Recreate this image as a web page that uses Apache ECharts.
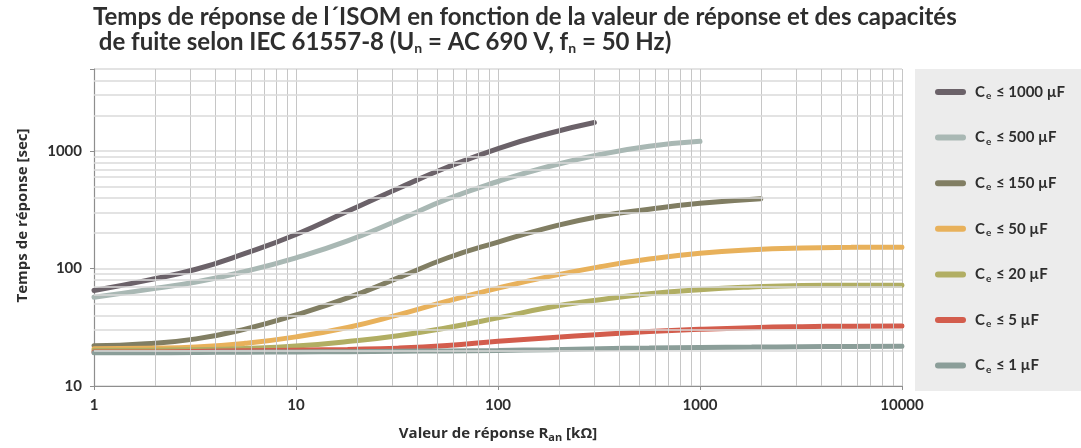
<!DOCTYPE html>
<html>
<head>
<meta charset="utf-8">
<script src="https://cdn.jsdelivr.net/npm/echarts@6/dist/echarts.min.js"></script>
<style>
  html, body { margin: 0; padding: 0; background: #ffffff; }
  #chart { width: 1081px; height: 448px; }
</style>
</head>
<body>
<div id="chart"></div>
<script>
// Response value R_an in kΩ (x), sampled about every quarter decade, and response time in seconds (y)
const resistance     = [1, 1.8, 3.2, 5.6, 10, 18, 32, 56, 100, 180, 320, 560, 1000, 1800, 3200, 5600, 10000];
const resistance1000 = [1, 1.8, 3.2, 5.6, 10, 18, 32, 56, 100, 180, 300];
const resistance500  = [1, 1.8, 3.2, 5.6, 10, 18, 32, 56, 100, 180, 320, 560, 1000];
const resistance150  = [1, 1.8, 3.2, 5.6, 10, 18, 32, 56, 100, 180, 320, 560, 1000, 2000];

const ce1000 = [65, 78.9, 98.6, 134.6, 195, 307, 481, 728, 1052, 1419, 1750];
const ce500  = [57, 65.8, 76.9, 94.6, 123.3, 172, 258, 390, 551, 743, 935, 1099, 1211];
const ce150  = [22, 22.9, 25.2, 30.5, 40.3, 56.2, 83.2, 123, 168, 224, 279, 320, 359, 393];
const ce50   = [20.8, 21.0, 21.5, 23.1, 26.2, 31.5, 40.3, 52.8, 68.1, 85.7, 103.6, 120.4, 135, 144.7, 149.8, 151.5, 152];
const ce20   = [20.2, 20.2, 20.4, 20.9, 21.9, 23.9, 26.8, 31.3, 38, 46.8, 54.3, 61, 66.1, 69.6, 71.6, 72, 72.1];
const ce5    = [19.5, 19.5, 19.7, 19.95, 20.2, 20.5, 21, 22.1, 24, 25.8, 27.5, 29.1, 30.4, 31.4, 32, 32.3, 32.4];
const ce1    = [19.2, 19.2, 19.3, 19.4, 19.5, 19.6, 19.75, 19.9, 20.1, 20.4, 20.8, 21.05, 21.3, 21.45, 21.6, 21.7, 21.8];

const seriesNames = ['Ce ≤ 1000 µF', 'Ce ≤ 500 µF', 'Ce ≤ 150 µF', 'Ce ≤ 50 µF', 'Ce ≤ 20 µF', 'Ce ≤ 5 µF', 'Ce ≤ 1 µF'];
const seriesValues = [ce1000, ce500, ce150, ce50, ce20, ce5, ce1];
const seriesX = [resistance1000, resistance500, resistance150, resistance, resistance, resistance, resistance];
const seriesColors = ['#6b6269', '#a9b8b4', '#817e63', '#e8b15b', '#b1ae63', '#d35d4d', '#8b9e99'];

// Decade tick labels and the intermediate log grid lines (2..9 of every decade)
const xTickLabels = [1, 10, 100, 1000, 10000];
const yTickLabels = [10, 100, 1000];
const xMinorGrid = [2,3,4,5,6,7,8,9, 20,30,40,50,60,70,80,90, 200,300,400,500,600,700,800,900, 2000,3000,4000,5000,6000,7000,8000,9000];
const yMinorGrid = [20,30,40,50,60,70,80,90, 200,300,400,500,600,700,800,900, 2000,3000,4000];

const FONT = 'Lato, "Open Sans", sans-serif';
const NAME_FONT = '"Open Sans", Lato, sans-serif';
const TEXT = '#2e2e2e';

const isDecade = (v, list) => list.some(t => Math.abs(t - v) / t < 1e-6);

const chart = echarts.init(document.getElementById('chart'), null, { renderer: 'canvas' });

const dataSeries = seriesNames.map((name, i) => ({
  name: name,
  type: 'line',
  z: 3,
  smooth: 0.5,
  showSymbol: false,
  symbol: 'none',
  silent: true,
  lineStyle: { color: seriesColors[i], width: 5, cap: 'round' },
  itemStyle: { color: seriesColors[i] },
  data: seriesValues[i].map((v, k) => [seriesX[i][k], v])
}));

// Helper series carrying the intermediate grid lines
const gridSeries = {
  name: 'grid',
  type: 'line',
  z: 1,
  silent: true,
  data: [],
  markLine: {
    silent: true,
    symbol: ['none', 'none'],
    animation: false,
    label: { show: false },
    emphasis: { disabled: true },
    data: [
      ...xMinorGrid.map(v => ({ xAxis: v, lineStyle: { color: '#c6c6c6', width: 1, type: 'solid' } })),
      ...yMinorGrid.map(v => ({ yAxis: v, lineStyle: { color: '#dadada', width: 1.6, type: 'solid' } }))
    ]
  }
};

chart.setOption({
  animation: false,
  backgroundColor: '#ffffff',
  title: {
    left: 93,
    top: 5,
    padding: 0,
    text: '{t|Temps de réponse de l´ISOM en fonction de la valeur de réponse et des capacités}\n' +
          '{t| de fuite selon IEC 61557-8 (U}{s|n}{t| = AC 690 V, f}{s|n}{t| = 50 Hz)}',
    textStyle: {
      rich: {
        t: { fontFamily: FONT, fontWeight: 'bold', fontSize: 24, color: TEXT, lineHeight: 25 },
        s: { fontFamily: FONT, fontWeight: 'bold', fontSize: 14, color: TEXT, lineHeight: 25, padding: [11, 0, 0, 0] }
      }
    }
  },
  graphic: [{
    type: 'rect',
    z: -1,
    shape: { x: 915, y: 69, width: 166, height: 322 },
    style: { fill: '#ececec' },
    silent: true
  }],
  legend: {
    orient: 'vertical',
    left: 930,
    top: 78,
    itemWidth: 31,
    itemHeight: 6,
    itemGap: 27.6,
    icon: 'path://M3,0 H28 A3,3 0 0 1 28,6 H3 A3,3 0 0 1 3,0 Z',
    selectedMode: false,
    data: seriesNames,
    formatter: name => '{b|C}{s|e}{b|' + name.slice(2) + '}',
    textStyle: {
      padding: [0, 0, 0, 4],
      rich: {
        b: { fontFamily: FONT, fontWeight: 'bold', fontSize: 15, color: TEXT, lineHeight: 20 },
        s: { fontFamily: FONT, fontWeight: 'bold', fontSize: 10, color: TEXT, lineHeight: 20, padding: [8, 1, 0, 1] }
      }
    }
  },
  grid: { left: 94, right: 179, top: 69, bottom: 55, containLabel: false },
  xAxis: {
    type: 'log',
    logBase: 10,
    min: 1,
    max: 10000,
    name: '{n|Valeur de réponse R}{s|an}{n| [kΩ]}',
    nameLocation: 'middle',
    nameGap: 39,
    nameTextStyle: {
      rich: {
        n: { fontFamily: NAME_FONT, fontWeight: 'bold', fontSize: 15, color: TEXT, lineHeight: 18 },
        s: { fontFamily: NAME_FONT, fontWeight: 'bold', fontSize: 11, color: TEXT, lineHeight: 18, padding: [7, 0, 0, 0] }
      }
    },
    axisLine: { show: true, lineStyle: { color: '#8e8e8e', width: 1.2 } },
    axisTick: { show: true, length: 4, lineStyle: { color: '#8e8e8e' } },
    axisLabel: {
      margin: 12,
      fontFamily: FONT, fontWeight: 'bold', fontSize: 15, color: TEXT,
      formatter: v => isDecade(v, xTickLabels) ? String(Math.round(v)) : ''
    },
    splitLine: { show: true, lineStyle: { color: '#c6c6c6', width: 1 } },
    minorTick: { show: false },
    minorSplitLine: { show: false }
  },
  yAxis: {
    type: 'log',
    logBase: 10,
    min: 10,
    max: 5000,
    name: '{n|Temps de réponse [sec]}',
    nameLocation: 'middle',
    nameGap: 62,
    nameTextStyle: {
      padding: [0, 0, 0, 24],
      rich: {
        n: { fontFamily: NAME_FONT, fontWeight: 'bold', fontSize: 15, color: TEXT, lineHeight: 18 }
      }
    },
    axisLine: { show: true, lineStyle: { color: '#8e8e8e', width: 1.2 } },
    axisTick: { show: true, length: 4, lineStyle: { color: '#8e8e8e' } },
    axisLabel: {
      margin: 12,
      fontFamily: FONT, fontWeight: 'bold', fontSize: 15, color: TEXT,
      formatter: v => isDecade(v, yTickLabels) ? String(Math.round(v)) : ''
    },
    splitLine: { show: true, lineStyle: { color: '#dadada', width: 1.6 } },
    minorTick: { show: false },
    minorSplitLine: { show: false }
  },
  series: [gridSeries, ...dataSeries]
});
</script>
</body>
</html>
